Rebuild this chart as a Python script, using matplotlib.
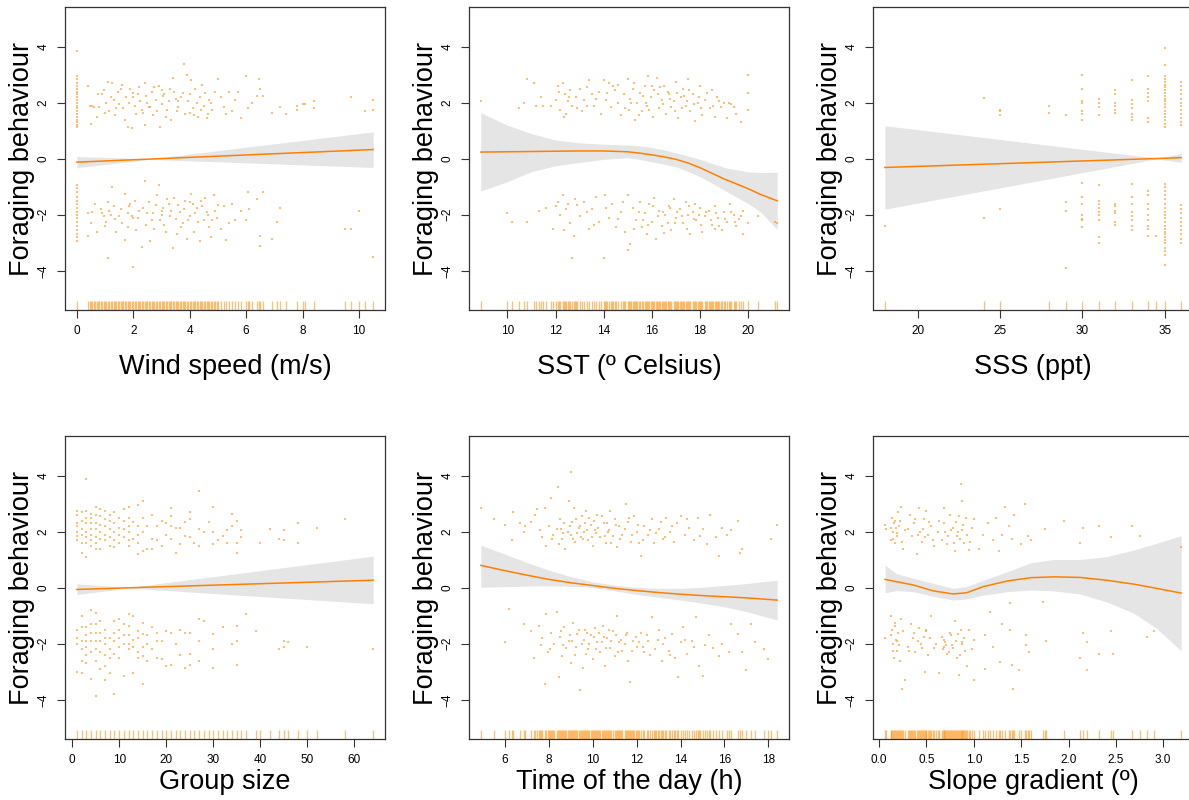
import matplotlib
matplotlib.use("Agg")
import matplotlib.pyplot as plt

plt.rcParams['font.family'] = ['Liberation Sans', 'DejaVu Sans']

ORANGE = '#FF8C00'
LINE = '#FF7F00'
BAND = '#E5E5E5'
SPINE = '#333333'

# ---- wind speed (m/s)
wind_up_x = [0] * 20 + [
    0.4, 0.45, 0.5, 0.6, 0.7, 0.75, 0.8, 0.95, 1.1, 1.15, 1.25, 1.3, 1.35, 1.45, 1.5, 1.6, 1.65, 1.75,
    1.8, 1.9, 1.95, 2.0, 2.05, 2.1, 2.2, 2.25, 2.3, 2.4, 2.45, 2.55, 2.65, 2.7, 2.8, 2.9, 2.95, 3.0,
    3.1, 3.2, 3.3, 3.35, 3.4, 3.5, 3.6, 3.75, 3.8, 3.85, 3.9, 3.95, 4.05, 4.1, 4.2, 4.3, 4.35, 4.45,
    4.5, 4.6, 4.7, 4.8, 5.0, 5.1, 5.3, 5.4, 5.6, 5.7, 5.8, 6.0, 6.05, 6.2, 6.4, 6.45, 6.5, 6.6, 6.9,
    7.2, 7.4, 7.8, 7.8, 8.0, 8.1, 8.4, 8.4, 9.7, 10.2, 10.5, 10.5,
    0.55, 0.9, 1.0, 1.2, 1.4, 1.55, 1.7, 1.85, 2.15, 2.35, 2.5, 2.6, 2.75, 2.85, 3.05, 3.15, 3.25, 3.45,
    3.55, 3.7, 4.0, 4.15, 4.25, 4.4, 4.55, 4.65, 4.75, 4.9, 5.2, 5.5, 1.05, 2.0, 3.0, 4.0, 2.4, 3.6]
wind_up_y = [3.85, 2.95, 2.85, 2.7, 2.6, 2.5, 2.4, 2.3, 2.2, 2.1, 2.0, 1.9, 1.8, 1.7, 1.6, 1.5, 1.4,
             1.3, 1.2, 1.12,
             2.6, 1.9, 1.23, 1.85, 1.5, 2.3, 1.85, 2.45, 2.75, 1.7, 2.7, 2.1, 1.55, 2.4, 1.95, 2.65, 1.8, 2.2,
             1.15, 2.5, 1.1, 2.35, 1.9, 1.6, 2.55, 2.05, 1.75, 1.2, 2.25, 1.85, 2.4, 1.55, 2.1, 2.6, 1.15, 1.95,
             2.3, 1.75, 2.5, 1.4, 2.9, 2.15, 1.85, 2.35, 3.4, 1.6, 3.0, 2.05, 2.8, 1.8, 2.5, 1.5, 2.2, 2.65,
             1.9, 1.45, 2.1, 1.75, 2.85, 2.2, 1.6, 2.4, 2.1, 2.4, 1.45, 2.95, 1.8, 2.0, 2.25, 2.85, 2.5, 2.25, 1.65,
             1.85, 1.6, 1.9, 1.75, 1.95, 1.95, 2.05, 1.8, 2.2, 1.7, 2.1, 1.75,
             1.9, 2.3, 1.65, 2.2, 1.8, 2.5, 1.4, 2.0, 2.3, 1.65, 2.0, 1.85, 2.55, 1.7, 2.25, 1.5, 2.05, 2.4,
             1.7, 2.2, 2.3, 1.55, 2.0, 1.75, 2.35, 1.6, 2.0, 2.4, 1.85, 1.7, 2.0, 2.2, 2.45, 1.65, 2.7, 2.05]
wind_lo_x = [0] * 16 + [
    0.4, 0.4, 0.55, 0.65, 0.7, 0.85, 0.95, 1.05, 1.1, 1.1, 1.2, 1.25, 1.35, 1.4, 1.55, 1.7, 1.7, 1.8,
    1.85, 1.95, 2.0, 2.05, 2.1, 2.2, 2.3, 2.4, 2.45, 2.55, 2.6, 2.7, 2.75, 2.85, 2.9, 2.95, 3.05, 3.15,
    3.25, 3.3, 3.4, 3.45, 3.55, 3.65, 3.75, 3.85, 3.9, 4.0, 4.05, 4.15, 4.25, 4.35, 4.4, 4.5, 4.6, 4.7,
    4.75, 4.85, 4.95, 5.0, 5.1, 5.3, 5.5, 5.6, 5.8, 6.0, 6.05, 6.1, 6.4, 6.5, 6.5, 6.6, 6.9, 7.1, 7.2,
    9.5, 9.7, 10.0, 10.5,
    0.5, 0.9, 1.0, 1.15, 1.3, 1.5, 1.6, 1.9, 2.15, 2.35, 2.5, 2.65, 2.8, 3.0, 3.1, 3.2, 3.35, 3.5,
    3.6, 3.7, 3.8, 3.95, 4.1, 4.2, 4.3, 4.45, 4.55, 4.65, 4.8, 4.9, 5.2, 5.4, 2.0, 3.0, 4.0, 1.8]
wind_lo_y = [-0.95, -1.05, -1.2, -1.35, -1.5, -1.6, -1.75, -1.9, -2.0, -2.1, -2.25, -2.4, -2.55, -2.7,
             -2.8, -2.95,
             -1.95, -2.75, -1.9, -1.6, -2.6, -1.8, -2.05, -2.25, -1.55, -3.55, -2.0, -1.0, -2.15, -2.6, -1.8,
             -1.25, -2.9, -2.45, -1.7, -2.05, -3.85, -1.5, -2.55, -1.85, -3.15, -0.8, -2.35, -1.55, -2.95, -1.95,
             -2.5, -1.3, -0.95, -2.2, -1.75, -2.6, -1.6, -2.05, -3.2, -1.4, -2.7, -1.9, -2.3, -1.5, -2.85, -2.05,
             -1.25, -2.6, -1.75, -2.95, -1.5, -2.2, -1.9, -2.45, -2.8, -1.3, -2.1, -1.65, -2.5, -2.9, -1.6, -2.2,
             -1.85, -2.2, -1.2, -1.8, -1.45, -2.75, -3.1, -1.2, -2.85, -2.25, -1.75, -2.5, -2.5, -1.85, -3.5,
             -2.3, -1.95, -2.4, -1.85, -1.7, -2.05, -2.3, -1.6, -2.1, -1.75, -1.95, -2.2, -1.65, -1.85, -2.35,
             -1.45, -1.85, -2.15, -1.65, -2.45, -1.8, -2.2, -1.6, -1.95, -2.25, -1.7, -1.4, -2.0, -2.2, -1.85,
             -1.7, -2.3, -2.1, -2.0, -1.55, -1.95]
wind_fit_x = [0, 2.6, 10.5]
wind_fit_y = [-0.12, -0.01, 0.33]
wind_band_lo = [-0.32, -0.02, -0.31]
wind_band_hi = [0.08, 0.0, 0.96]

# ---- SST (deg C)
sst_up_x = [8.9, 10.5, 10.7, 10.8, 11.1, 11.2, 11.4, 11.5, 11.8, 12.0, 12.1, 12.2, 12.3, 12.35, 12.4, 12.45,
            12.5, 12.6, 12.7, 12.85, 13.0, 13.1, 13.2, 13.4, 13.5, 13.6, 13.8, 13.9, 14.0, 14.1, 14.2, 14.3,
            14.45, 14.6, 14.7, 14.85, 15.0, 15.05, 15.1, 15.2, 15.3, 15.4, 15.5, 15.6, 15.7, 15.8, 15.85, 15.95,
            16.05, 16.1, 16.2, 16.3, 16.4, 16.5, 16.6, 16.7, 16.8, 16.9, 17.0, 17.1, 17.2, 17.3, 17.4, 17.5,
            17.6, 17.7, 17.8, 17.9, 18.0, 18.1, 18.2, 18.4, 18.5, 18.6, 18.7, 18.85, 19.0, 19.1, 19.3, 19.5,
            19.7, 20.0, 20.0, 20.0,
            12.15, 12.55, 12.9, 13.3, 13.7, 14.15, 14.4, 14.9, 15.15, 15.25, 15.45, 15.65, 15.75, 16.0, 16.25,
            16.45, 16.65, 16.75, 16.95, 17.05, 17.25, 17.45, 17.55, 17.75, 17.95, 18.05, 18.3, 18.55, 18.8,
            19.2, 15.9, 16.35, 17.35, 14.6, 13.3, 19.4]
sst_up_y = [2.05, 1.8, 2.0, 2.85, 2.7, 1.9, 2.2, 1.9, 1.9, 2.1, 2.6, 1.75, 2.7, 1.5, 2.3, 1.6,
            2.05, 2.45, 1.9, 2.2, 2.5, 1.7, 2.1, 2.8, 2.3, 1.9, 2.4, 1.6, 2.8, 2.1, 2.7, 1.85,
            2.45, 2.0, 1.55, 2.3, 2.85, 1.75, 2.15, 2.5, 1.4, 2.0, 2.35, 1.7, 2.6, 1.9, 2.95, 2.2,
            1.5, 2.45, 2.9, 1.8, 2.1, 2.6, 1.6, 2.3, 1.85, 2.05, 2.75, 1.45, 2.2, 2.5, 1.9, 2.85,
            1.7, 2.3, 1.35, 2.0, 2.6, 1.55, 2.1, 1.8, 2.45, 1.5, 2.2, 1.85, 2.0, 1.45, 1.95, 1.6,
            1.3, 3.0, 2.35, 1.75,
            2.4, 2.2, 1.8, 2.55, 2.15, 2.35, 2.6, 1.8, 2.0, 2.7, 1.55, 2.25, 2.0, 2.6, 2.3,
            1.95, 2.4, 2.15, 1.7, 2.35, 1.8, 2.05, 2.45, 1.95, 2.2, 1.8, 2.35, 1.9, 2.05,
            2.0, 1.75, 2.55, 2.25, 2.65, 1.9, 1.85]
sst_lo_x = [10.0, 10.2, 10.8, 11.3, 11.6, 11.9, 12.0, 12.2, 12.3, 12.35, 12.5, 12.6, 12.7, 12.75, 12.8, 13.0,
            13.2, 13.4, 13.5, 13.7, 13.8, 14.0, 14.05, 14.2, 14.35, 14.5, 14.7, 14.9, 15.0, 15.0, 15.1, 15.2,
            15.35, 15.5, 15.6, 15.7, 15.8, 15.9, 16.0, 16.1, 16.15, 16.3, 16.4, 16.55, 16.7, 16.8, 16.9, 17.0,
            17.15, 17.3, 17.4, 17.5, 17.6, 17.7, 17.85, 18.0, 18.1, 18.2, 18.35, 18.5, 18.6, 18.75, 18.9, 19.0,
            19.1, 19.25, 19.4, 19.5, 19.6, 19.8, 19.8, 20.0, 20.4, 21.1, 21.2,
            12.1, 12.45, 12.9, 13.3, 13.6, 14.1, 14.6, 14.8, 15.25, 15.45, 15.65, 15.85, 16.05, 16.25, 16.45,
            16.65, 16.75, 16.95, 17.05, 17.25, 17.45, 17.55, 17.75, 17.95, 18.05, 18.25, 18.45, 18.65, 18.8,
            19.05, 19.3, 19.45, 19.7, 16.5, 17.8, 18.6]
sst_lo_y = [-1.95, -2.25, -2.25, -1.85, -1.75, -2.5, -1.7, -2.0, -1.3, -2.55, -1.6, -2.3, -3.55, -2.75, -1.45,
            -2.05, -1.55, -2.5, -1.8, -1.35, -2.25, -3.55, -1.3, -2.1, -1.6, -2.45, -1.9, -2.6, -1.3, -3.25,
            -3.05, -1.75, -2.2, -1.55, -2.45, -1.95, -2.7, -1.6, -2.25, -1.4, -2.85, -1.85, -2.4, -2.0, -1.7,
            -2.55, -1.45, -2.1, -1.8, -2.3, -1.55, -2.0, -2.7, -1.9, -2.2, -1.75, -2.6, -2.05, -1.85, -2.35,
            -1.7, -2.1, -2.55, -1.9, -2.25, -1.6, -2.0, -2.4, -2.15, -1.85, -2.7, -2.3, -2.05, -2.25, -2.3,
            -1.55, -1.8, -1.65, -1.9, -2.35, -1.75, -2.15, -1.55, -2.5, -1.9, -2.2, -2.35, -1.7, -2.05, -1.9,
            -2.3, -1.75, -2.3, -1.9, -2.05, -2.5, -1.7, -2.15, -2.0, -2.35, -1.9, -2.2, -1.95, -2.4,
            -2.15, -1.9, -2.25, -2.05, -2.65, -1.6, -2.5]
sst_fit_x = [8.9, 10, 11, 12, 13, 14, 15, 15.5, 16, 16.5, 17, 17.5, 18, 18.5, 19, 20, 20.5, 21.2]
sst_fit_y = [0.24, 0.25, 0.26, 0.27, 0.28, 0.28, 0.25, 0.2, 0.14, 0.07, -0.02, -0.15, -0.32, -0.52, -0.72,
             -1.07, -1.27, -1.5]
sst_band_lo = [-1.15, -0.82, -0.46, -0.25, -0.13, -0.02, 0.04, -0.02, -0.11, -0.19, -0.29, -0.45, -0.64, -0.87,
               -1.12, -1.6, -1.89, -2.52]
sst_band_hi = [1.64, 1.2, 0.9, 0.67, 0.57, 0.52, 0.49, 0.46, 0.4, 0.32, 0.21, 0.1, -0.02, -0.17, -0.31, -0.47,
               -0.49, -0.48]

# ---- SSS (ppt): discrete salinity values
sss_up_x = [24, 25, 25, 25, 28, 28, 29] + [30] * 7 + [31] * 4 + [32] * 6 + [33] * 7 + [34] * 7 + [35] * 20 + [36] * 12
sss_up_y = [2.18, 1.75, 1.7, 1.55, 1.88, 1.65, 1.58,
            3.0, 2.5, 2.05, 2.0, 1.7, 1.6, 1.4,
            2.15, 2.0, 1.85, 1.55,
            2.45, 2.3, 2.0, 1.9, 1.75, 1.65,
            2.8, 2.1, 1.95, 1.8, 1.6, 1.5, 1.4,
            2.95, 2.5, 2.35, 2.2, 2.05, 1.45, 1.3,
            3.95, 3.35, 2.95, 2.85, 2.75, 2.65, 2.55, 2.45, 2.35, 2.25, 2.15, 2.05, 1.95, 1.85, 1.7, 1.6, 1.5,
            1.4, 1.25, 1.12,
            2.75, 2.6, 2.45, 2.3, 2.15, 2.0, 1.9, 1.75, 1.6, 1.45, 1.3, 1.2]
sss_lo_x = [18, 24, 25, 29, 29, 29] + [30] * 7 + [31] * 9 + [32] * 6 + [33] * 8 + [34] * 9 + [34.5] + [35] * 22 + [36] * 10
sss_lo_y = [-2.4, -2.1, -1.78, -1.55, -1.85, -3.9,
            -0.88, -1.35, -1.6, -2.0, -2.15, -2.2, -2.45,
            -0.92, -1.5, -1.6, -1.75, -1.9, -2.0, -2.2, -2.8, -3.0,
            -1.6, -1.7, -1.85, -1.95, -2.25, -2.35,
            -0.9, -1.35, -1.6, -1.9, -2.05, -2.2, -2.4, -2.55,
            -1.15, -1.3, -1.6, -1.8, -2.0, -2.2, -2.4, -2.5, -2.75,
            -2.75,
            -0.9, -1.0, -1.15, -1.3, -1.45, -1.6, -1.75, -1.9, -2.0, -2.1, -2.25, -2.4, -2.5, -2.6, -2.7,
            -2.8, -2.9, -3.0, -3.2, -3.3, -3.45, -3.8,
            -1.65, -1.8, -1.95, -2.1, -2.25, -2.4, -2.55, -2.7, -2.85, -3.0]
sss_fit_x = [18, 34.55, 36]
sss_fit_y = [-0.31, 0.01, 0.04]
sss_band_lo = [-1.8, 0.0, -0.13]
sss_band_hi = [1.18, 0.02, 0.19]

# ---- group size
grp_up_x = [1] * 7 + [2] * 6 + [3] * 8 + [4] * 7 + [5] * 7 + [6] * 6 + [7] * 5 + [8] * 5 + [9] * 5 + [10] * 4 + \
           [11] * 4 + [12] * 6 + [13] * 2 + [14] * 5 + [15] * 4 + [16] * 2 + [17] * 3 + [18] * 2 + [19] * 2 + \
           [20] * 2 + [21] * 4 + [22] * 2 + [23] * 2 + [24] * 2 + [25] * 3 + [26, 27, 27, 27, 28, 29, 30, 30, 30,
           31, 32, 33, 33, 34, 34, 35, 35, 35, 36, 36, 40, 42, 44, 45, 45, 48, 48, 52, 58]
grp_up_y = [2.75, 2.6, 2.3, 2.2, 2.0, 1.85, 1.7,
            2.7, 2.4, 2.1, 1.9, 1.6, 1.25,
            3.9, 2.75, 2.5, 2.3, 2.0, 1.8, 1.6, 1.1,
            2.65, 2.5, 2.3, 2.1, 1.9, 1.7, 1.5,
            2.9, 2.6, 2.3, 2.1, 1.8, 1.6, 1.4,
            2.8, 2.55, 2.25, 2.0, 1.75, 1.4,
            2.75, 2.45, 2.2, 1.9, 1.7,
            2.6, 2.4, 2.1, 1.8, 1.5,
            2.7, 2.3, 2.0, 1.7, 1.45,
            2.5, 2.15, 1.9, 1.6,
            2.8, 2.4, 2.1, 1.8,
            2.9, 2.5, 2.2, 2.0, 1.7, 1.5,
            2.35, 1.75,
            2.95, 2.2, 1.9, 1.6, 1.2,
            3.1, 2.5, 2.0, 1.3,
            2.2, 1.4,
            2.6, 1.75, 1.4,
            2.2, 1.7,
            2.4, 1.5,
            2.3, 1.9,
            2.85, 2.55, 2.2, 1.75,
            2.15, 1.25,
            2.15, 1.55,
            2.35, 1.85,
            2.7, 2.45, 1.8,
            1.6, 3.45, 2.1, 1.5, 2.0, 2.35, 2.9, 2.0, 1.55,
            1.7, 1.85, 2.05, 1.6, 2.65, 2.2, 2.4, 1.6, 1.25, 2.05, 1.8, 1.6, 2.1, 1.75, 2.05, 1.7, 2.3, 1.6, 2.15, 2.45]
grp_lo_x = [1] * 4 + [2] * 6 + [3] * 6 + [4] * 6 + [5] * 7 + [6] * 5 + [7] * 6 + [8] * 4 + [9] * 5 + [10] * 5 + \
           [11] * 4 + [12] * 5 + [13] * 4 + [14] * 4 + [15] * 5 + [16] * 3 + [17] * 2 + [18] * 3 + [19] * 2 + \
           [20] * 2 + [21] * 2 + [22, 23, 23, 24, 24, 25, 25, 25, 27, 27, 27, 28, 30, 30, 30, 32, 34, 35, 35, 35,
           37, 39, 44, 45, 45, 46, 50, 64]
grp_lo_y = [-1.5, -1.8, -2.0, -3.0,
            -1.0, -1.4, -1.9, -2.2, -2.6, -3.05,
            -1.4, -1.7, -1.9, -2.1, -2.4, -2.7,
            -0.8, -1.3, -1.6, -1.9, -2.3, -3.25,
            -0.9, -1.3, -1.6, -1.9, -2.2, -2.6, -3.85,
            -1.2, -1.6, -1.9, -2.3, -2.9,
            -1.5, -1.8, -2.0, -2.4, -2.8, -3.3,
            -1.8, -2.2, -2.5, -3.05,
            -1.2, -1.6, -1.9, -2.35, -3.8,
            -1.1, -1.5, -1.8, -2.1, -2.5,
            -1.3, -1.7, -2.0, -3.15,
            -0.95, -1.35, -1.7, -2.0, -2.2,
            -1.0, -1.85, -2.1, -3.05,
            -1.55, -1.8, -2.3, -2.5,
            -1.25, -1.65, -2.1, -2.45, -3.45,
            -1.7, -2.0, -2.6,
            -1.4, -2.2,
            -1.6, -1.9, -2.5,
            -1.9, -2.55,
            -1.55, -2.8,
            -1.6, -2.75,
            -2.0, -1.5, -2.4, -1.6, -2.85, -1.6, -2.35, -2.75, -1.1, -1.9, -2.6, -1.2, -1.65, -2.2, -2.85, -1.4,
            -2.0, -1.35, -1.9, -2.75, -0.95, -1.55, -2.2, -1.9, -2.1, -1.95, -2.1, -2.2]
grp_fit_x = [1, 12, 64]
grp_fit_y = [-0.06, 0.0, 0.27]
grp_band_lo = [-0.24, -0.01, -0.57]
grp_band_hi = [0.14, 0.01, 1.13]

# ---- time of the day (h)
time_up_x = [4.9, 5.5, 6.0, 6.3, 6.35, 6.7, 6.85, 6.9, 7.2, 7.35, 7.45, 7.7, 7.8, 7.85, 8.0, 8.1, 8.2, 8.35,
             8.4, 8.45, 8.5, 8.6, 8.7, 8.75, 8.85, 8.9, 9.0, 9.0, 9.05, 9.15, 9.2, 9.35, 9.45, 9.5, 9.6, 9.7,
             9.8, 9.9, 10.0, 10.1, 10.2, 10.35, 10.5, 10.6, 10.7, 10.8, 10.9, 11.0, 11.1, 11.2, 11.35, 11.5,
             11.6, 11.75, 11.9, 12.0, 12.1, 12.2, 12.35, 12.5, 12.7, 12.8, 13.0, 13.2, 13.35, 13.5, 13.7, 13.85,
             14.0, 14.2, 14.4, 14.6, 14.8, 15.0, 15.2, 15.35, 15.6, 15.75, 15.9, 16.1, 16.3, 16.6, 16.7, 16.8,
             18.1, 18.4,
             7.6, 8.15, 8.55, 8.65, 8.95, 9.1, 9.25, 9.3, 9.4, 9.55, 9.65, 9.75, 9.85, 9.95, 10.05, 10.15, 10.25,
             10.4, 10.55, 10.65, 10.75, 10.85, 11.05, 11.25, 11.45, 11.65, 11.8, 12.05, 12.3, 12.6, 12.9, 13.1,
             13.3, 13.6, 14.3, 14.9]
time_up_y = [2.85, 2.45, 2.25, 1.7, 2.7, 2.3, 2.0, 2.2, 2.35, 2.6, 2.8, 1.8, 2.85, 1.5, 2.2, 3.2, 1.9, 2.1,
             3.6, 1.55, 2.45, 1.75, 2.3, 1.4, 2.0, 3.1, 4.15, 1.9, 2.35, 2.85, 1.65, 2.15, 1.8, 2.55, 2.0, 2.75,
             1.7, 2.25, 1.5, 2.05, 2.6, 1.8, 2.3, 1.6, 2.0, 2.75, 1.85, 2.45, 1.45, 2.2, 1.9, 3.0,
             2.35, 1.65, 2.55, 2.0, 1.6, 1.15, 2.2, 1.9, 2.45, 1.6, 2.1, 1.75, 2.5, 2.0, 1.65, 2.3,
             2.55, 1.9, 2.15, 1.7, 2.5, 2.1, 1.55, 2.6, 1.8, 1.15, 2.15, 1.9, 2.05, 2.4, 1.25, 1.4,
             1.75, 2.25,
             2.05, 1.75, 2.1, 1.95, 2.2, 1.75, 2.45, 1.95, 2.2, 1.75, 2.3, 2.05, 2.5, 1.8, 2.4, 1.95, 2.15,
             2.55, 1.85, 2.3, 2.05, 1.6, 2.25, 1.75, 2.1, 2.5, 1.9, 2.25, 1.7, 2.05, 1.95, 2.35,
             1.8, 2.2, 2.45, 1.85]
time_lo_x = [6.0, 6.2, 6.85, 7.2, 7.3, 7.55, 7.65, 7.8, 7.85, 7.95, 8.1, 8.25, 8.35, 8.45, 8.5, 8.6, 8.7, 8.8,
             8.9, 9.0, 9.1, 9.2, 9.3, 9.4, 9.5, 9.55, 9.65, 9.8, 9.9, 10.0, 10.1, 10.2, 10.35, 10.45, 10.55,
             10.65, 10.8, 10.9, 11.0, 11.1, 11.2, 11.35, 11.5, 11.6, 11.7, 11.85, 12.0, 12.2, 12.35, 12.5, 12.7,
             12.85, 13.0, 13.15, 13.3, 13.45, 13.6, 13.75, 13.9, 14.0, 14.1, 14.3, 14.5, 14.7, 14.85, 15.0, 15.1,
             15.3, 15.5, 15.75, 15.9, 16.2, 16.3, 16.6, 16.8, 17.0, 17.2, 17.4, 17.8, 18.0,
             7.7, 8.05, 8.55, 8.65, 8.95, 9.05, 9.25, 9.35, 9.6, 9.7, 9.75, 9.85, 10.05, 10.15, 10.3, 10.4, 10.5,
             10.6, 10.75, 10.85, 11.05, 11.15, 11.3, 11.45, 11.55, 11.8, 11.95, 12.1, 12.3, 12.45, 12.6, 12.95,
             13.2, 13.5, 14.2, 14.6]
time_lo_y = [-1.95, -0.75, -1.3, -1.55, -2.5, -1.35, -2.05, -3.45, -0.95, -2.3, -1.6, -2.0, -0.85, -3.2, -1.75,
             -2.45, -1.4, -2.15, -1.9, -2.7, -1.25, -2.4, -1.65, -3.65, -2.0, -2.85, -1.5, -2.2, -1.7, -2.55,
             -1.45, -1.95, -2.3, -1.35, -2.8, -1.8, -2.15, -1.55, -2.45, -1.0, -1.95, -2.25, -1.7, -2.6, -3.35,
             -1.9, -2.1, -1.6, -2.3, -1.9, -1.05, -2.2, -1.5, -2.6, -1.8, -2.25, -1.65, -2.5, -3.2, -1.95,
             -1.4, -2.35, -1.9, -1.05, -2.8, -3.15, -2.05, -1.7, -2.15, -2.45, -2.0, -2.3, -1.3, -1.65, -2.3,
             -2.95, -1.3, -1.95, -2.2, -2.55,
             -1.8, -2.2, -1.55, -2.05, -1.7, -1.9, -2.1, -1.5, -1.85, -2.35, -1.6, -2.0, -1.75, -2.2, -1.6, -1.95,
             -1.75, -2.15, -1.5, -1.9, -1.7, -2.3, -1.85, -2.0, -1.6, -2.25, -1.75, -1.95, -2.1, -1.7, -2.4,
             -1.85, -2.0, -2.4, -1.85, -2.1]
time_fit_x = [4.9, 6, 7, 8, 9, 10, 11, 12, 13, 14, 15, 16, 17, 18.4]
time_fit_y = [0.8, 0.61, 0.45, 0.3, 0.18, 0.08, -0.02, -0.1, -0.17, -0.23, -0.28, -0.32, -0.36, -0.44]
time_band_lo = [0.02, 0.04, 0.06, 0.07, 0.05, 0.01, -0.11, -0.24, -0.34, -0.44, -0.55, -0.68, -0.85, -1.15]
time_band_hi = [1.52, 1.2, 0.9, 0.63, 0.4, 0.21, 0.1, 0.01, -0.02, -0.02, 0.02, 0.08, 0.15, 0.27]

# ---- slope gradient (deg)
slope_up_x = [0.06, 0.07, 0.12, 0.14, 0.15, 0.16, 0.17, 0.18, 0.19, 0.2, 0.22, 0.23, 0.25, 0.27, 0.33, 0.35,
              0.37, 0.4, 0.42, 0.43, 0.45, 0.47, 0.5, 0.52, 0.55, 0.58, 0.63, 0.66, 0.68, 0.7, 0.72, 0.75, 0.78,
              0.8, 0.82, 0.84, 0.86, 0.87, 0.88, 0.9, 0.92, 0.95, 0.98, 1.0, 1.05, 1.1, 1.15, 1.2, 1.23, 1.27,
              1.3, 1.33, 1.37, 1.4, 1.42, 1.5, 1.54, 1.57, 1.6, 1.75, 1.95, 2.12, 2.15, 2.32, 2.45, 2.67, 2.75,
              3.19,
              0.13, 0.15, 0.17, 0.19, 0.21, 0.24, 0.3, 0.38, 0.41, 0.46, 0.48, 0.53, 0.57, 0.62, 0.69, 0.73,
              0.76, 0.79, 0.81, 0.83, 0.85, 0.89, 0.93, 0.96]
slope_up_y = [2.25, 2.1, 1.7, 2.5, 2.0, 2.3, 1.6, 2.15, 1.85, 2.7, 2.4, 2.9, 1.4, 2.05, 2.6, 1.85,
              2.3, 1.2, 2.85, 2.0, 1.65, 2.45, 2.75, 1.9, 2.2, 1.5, 2.4, 1.7, 2.85, 2.0, 1.55, 2.6, 2.15,
              1.3, 1.85, 2.55, 3.7, 3.1, 2.05, 1.6, 2.5, 1.35, 2.15, 2.45, 1.4, 1.9, 2.3, 1.7, 2.5, 1.3,
              1.9, 2.9, 2.2, 1.75, 2.6, 1.55, 3.0, 1.85, 1.7, 2.1, 2.4, 1.6, 2.15, 2.2, 1.8, 2.2, 1.85,
              1.45,
              2.15, 1.75, 2.4, 1.95, 2.2, 1.65, 2.1, 2.45, 1.9, 2.1, 1.8, 2.35, 1.7, 2.0, 2.3, 1.85,
              2.05, 1.6, 2.35, 2.0, 1.75, 2.25, 1.9, 1.65]
slope_lo_x = [0.06, 0.13, 0.14, 0.15, 0.16, 0.17, 0.18, 0.19, 0.2, 0.22, 0.23, 0.24, 0.27, 0.3, 0.34, 0.36,
              0.38, 0.42, 0.44, 0.47, 0.48, 0.5, 0.52, 0.55, 0.58, 0.63, 0.66, 0.68, 0.7, 0.72, 0.75, 0.77, 0.8,
              0.82, 0.84, 0.86, 0.88, 0.9, 0.93, 0.95, 0.98, 1.0, 1.0, 1.12, 1.12, 1.17, 1.2, 1.28, 1.3, 1.38,
              1.38, 1.4, 1.41, 1.48, 1.55, 1.55, 1.58, 1.73, 1.76, 2.12, 2.15, 2.2, 2.2, 2.32, 2.45, 2.47, 2.83,
              2.9,
              0.13, 0.15, 0.17, 0.19, 0.21, 0.25, 0.32, 0.37, 0.41, 0.45, 0.49, 0.54, 0.6, 0.67, 0.69, 0.71,
              0.74, 0.76, 0.78, 0.81, 0.83, 0.85, 0.87, 0.91]
slope_lo_y = [-1.8, -1.0, -1.5, -2.0, -2.5, -1.25, -1.85, -2.25, -1.6, -2.6, -1.1, -3.6, -3.3, -2.1, -1.3, -1.8,
              -2.3, -1.45, -2.0, -1.75, -3.0, -1.55, -2.4, -1.0, -2.15, -3.05, -1.75, -2.1, -1.95, -2.35, -1.6,
              -2.05, -1.2, -2.5, -3.1, -1.5, -2.0, -1.8, -2.8, -1.5, -2.2, -3.3, -1.85, -1.7, -2.9, -0.85, -2.1,
              -2.65, -1.3, -0.55, -1.5, -2.75, -3.6, -2.95, -1.7, -2.05, -2.3, -0.5, -1.9, -2.5, -1.6, -1.95,
              -2.95, -2.35, -1.55, -2.35, -1.75, -1.55,
              -1.7, -2.25, -1.35, -1.9, -2.05, -1.55, -2.25, -1.6, -1.9, -2.15, -1.5, -1.8, -2.0, -2.2, -1.85,
              -2.05, -2.3, -1.7, -2.15, -1.9, -1.65, -2.4, -1.95, -2.25]
slope_fit_x = [0.063, 0.18, 0.36, 0.57, 0.78, 0.92, 1.1, 1.35, 1.6, 1.84, 2.12, 2.4, 2.69, 2.93, 3.19]
slope_fit_y = [0.30, 0.22, 0.10, -0.11, -0.22, -0.18, 0.04, 0.24, 0.36, 0.39, 0.37, 0.27, 0.13, -0.02, -0.19]
slope_band_lo = [-0.18, -0.10, -0.14, -0.30, -0.44, -0.40, -0.26, -0.14, -0.08, -0.11, -0.22, -0.50, -0.91,
                 -1.45, -2.25]
slope_band_hi = [0.81, 0.51, 0.34, 0.16, -0.02, 0.04, 0.27, 0.57, 0.89, 1.01, 1.01, 1.11, 1.35, 1.59, 1.86]

Y_TICKS = [-4, -2, 0, 2, 4]
Y_LIM = (-5.4, 5.42)


def draw_panel(ax, up_x, up_y, lo_x, lo_y, fit_x, fit_y, band_lo, band_hi,
               xlim, xticks, xticklabels, xlabel, xlabel_y):
    """
    一个偏残差面板: 置信带, 拟合线, 残差点, rug
    """
    ax.fill_between(fit_x, band_lo, band_hi, color=BAND, lw=0, zorder=1)
    ax.plot(fit_x, fit_y, color=LINE, lw=1.1, zorder=3)
    ax.plot(up_x + lo_x, up_y + lo_y, ls='none', marker='s', ms=1.5, mew=0,
            color=ORANGE, alpha=0.55, zorder=2)

    # rug 在底部 3% 高度
    ax.vlines(sorted(set(up_x + lo_x)), 0, 0.03, transform=ax.get_xaxis_transform(),
              colors=ORANGE, lw=0.9, alpha=0.55, zorder=2)

    ax.set_xlim(xlim)
    ax.set_ylim(Y_LIM)
    ax.set_xticks(xticks)
    ax.set_xticklabels(xticklabels)
    ax.set_yticks(Y_TICKS)
    ax.set_yticklabels([str(t).replace('-', '\u2212') for t in Y_TICKS], rotation=90, va='center')
    ax.tick_params(direction='out', length=6, width=0.8, color=SPINE, labelsize=8.5,
                   top=False, right=False)
    ax.tick_params(axis='x', pad=5)
    ax.tick_params(axis='y', pad=5)
    for sp in ax.spines.values():
        sp.set_color(SPINE)
        sp.set_linewidth(0.9)

    ax.set_ylabel('Foraging behaviour', fontsize=19.5, va='center')
    ax.yaxis.set_label_coords(-0.134, 0.5)
    ax.set_xlabel(xlabel, fontsize=19.5, va='center')
    ax.xaxis.set_label_coords(0.5, xlabel_y)


fig = plt.figure(figsize=(11.89, 8), dpi=100)
W, H = 1189.0, 800.0
lefts = [65, 469, 873]
top_row = (800 - 310) / H
bot_row = (800 - 739) / H
aw, ah = 320 / W, 303 / H

ax = fig.add_axes([lefts[0] / W, top_row, aw, ah])
draw_panel(ax, wind_up_x, wind_up_y, wind_lo_x, wind_lo_y, wind_fit_x, wind_fit_y, wind_band_lo, wind_band_hi,
           (-0.42, 10.92), [0, 2, 4, 6, 8, 10], ['0', '2', '4', '6', '8', '10'], 'Wind speed (m/s)', -0.188)

ax = fig.add_axes([lefts[1] / W, top_row, aw, ah])
draw_panel(ax, sst_up_x, sst_up_y, sst_lo_x, sst_lo_y, sst_fit_x, sst_fit_y, sst_band_lo, sst_band_hi,
           (8.41, 21.69), [10, 12, 14, 16, 18, 20], ['10', '12', '14', '16', '18', '20'], 'SST (º Celsius)', -0.188)

ax = fig.add_axes([lefts[2] / W, top_row, aw, ah])
draw_panel(ax, sss_up_x, sss_up_y, sss_lo_x, sss_lo_y, sss_fit_x, sss_fit_y, sss_band_lo, sss_band_hi,
           (17.28, 36.72), [20, 25, 30, 35], ['20', '25', '30', '35'], 'SSS (ppt)', -0.188)

ax = fig.add_axes([lefts[0] / W, bot_row, aw, ah])
draw_panel(ax, grp_up_x, grp_up_y, grp_lo_x, grp_lo_y, grp_fit_x, grp_fit_y, grp_band_lo, grp_band_hi,
           (-1.52, 66.52), [0, 10, 20, 30, 40, 50, 60], ['0', '10', '20', '30', '40', '50', '60'],
           'Group size', -0.142)

ax = fig.add_axes([lefts[1] / W, bot_row, aw, ah])
draw_panel(ax, time_up_x, time_up_y, time_lo_x, time_lo_y, time_fit_x, time_fit_y, time_band_lo, time_band_hi,
           (4.36, 18.94), [6, 8, 10, 12, 14, 16, 18], ['6', '8', '10', '12', '14', '16', '18'],
           'Time of the day (h)', -0.142)

ax = fig.add_axes([lefts[2] / W, bot_row, aw, ah])
draw_panel(ax, slope_up_x, slope_up_y, slope_lo_x, slope_lo_y, slope_fit_x, slope_fit_y, slope_band_lo,
           slope_band_hi, (-0.065, 3.315), [0, 0.5, 1.0, 1.5, 2.0, 2.5, 3.0],
           ['0.0', '0.5', '1.0', '1.5', '2.0', '2.5', '3.0'], 'Slope gradient (º)', -0.142)

fig.savefig('out.png', dpi=100)
plt.close(fig)
